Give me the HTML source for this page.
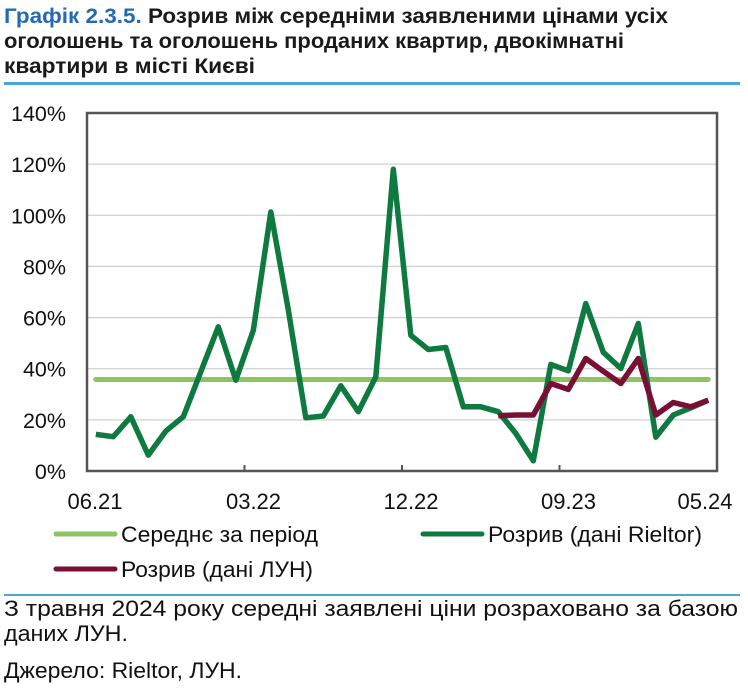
<!DOCTYPE html>
<html><head><meta charset="utf-8"><style>
body{margin:0;background:#fff;}
svg{display:block;font-family:"Liberation Sans",Arial,sans-serif;}
</style></head><body>
<svg width="748" height="695" viewBox="0 0 748 695" xmlns="http://www.w3.org/2000/svg">
<g font-size="21" font-weight="bold" fill="#1a1a1a">
<text x="4" y="23" textLength="664" lengthAdjust="spacingAndGlyphs"><tspan fill="#2369b3">Графік 2.3.5.</tspan> Розрив між середніми заявленими цінами усіх</text>
<text x="4" y="48" textLength="620" lengthAdjust="spacingAndGlyphs">оголошень та оголошень проданих квартир, двокімнатні</text>
<text x="4" y="73" textLength="251" lengthAdjust="spacingAndGlyphs">квартири в місті Києві</text>
</g>
<rect x="4" y="82" width="736" height="3" fill="#4aa6d8"/>
<g id="grid"></g>
<g id="yticks" font-size="21.5" fill="#111" text-anchor="end"></g>
<g id="xticks" font-size="22" fill="#111" text-anchor="middle"></g>
<g id="series"></g>
<rect x="87" y="113" width="630" height="358" fill="none" stroke="#555" stroke-width="2.5"/>
<g id="xtickmarks"></g>
<g font-size="22" fill="#111">
<g><line x1="56" y1="534" x2="115" y2="534" stroke="#8fc463" stroke-width="5" stroke-linecap="round"/><text x="121" y="542" textLength="197" lengthAdjust="spacingAndGlyphs">Середнє за період</text></g>
<g><line x1="423" y1="534" x2="482" y2="534" stroke="#0f7a40" stroke-width="5" stroke-linecap="round"/><text x="488" y="542" textLength="214" lengthAdjust="spacingAndGlyphs">Розрив (дані Rieltor)</text></g>
<g><line x1="56" y1="569" x2="115" y2="569" stroke="#7a0f35" stroke-width="5" stroke-linecap="round"/><text x="121" y="577" textLength="192" lengthAdjust="spacingAndGlyphs">Розрив (дані ЛУН)</text></g>
</g>
<rect x="4" y="594" width="736" height="2" fill="#4aa6d8"/>
<g font-size="22" fill="#111">
<text x="4" y="616" textLength="734" lengthAdjust="spacingAndGlyphs">З травня 2024 року середні заявлені ціни розраховано за базою</text>
<text x="4" y="641" textLength="124" lengthAdjust="spacingAndGlyphs">даних ЛУН.</text>
<text x="4" y="678" textLength="238" lengthAdjust="spacingAndGlyphs">Джерело: Rieltor, ЛУН.</text>
</g>
</svg>
<script>
const rieltor=[14.3,13.4,21.2,6.2,15.6,21.2,38.8,56.4,35.5,55,101.3,63,20.8,21.5,33.3,23.2,36.8,118,53.1,47.5,48.3,25.1,25.1,23.2,14.7,4.0,41.7,39.2,65.5,46.4,40.1,57.7,13.2,21.9,24.7,27.7];
const lun=[null,null,null,null,null,null,null,null,null,null,null,null,null,null,null,null,null,null,null,null,null,null,null,21.6,21.9,21.9,34.2,31.9,44,39,34.2,44,21.9,26.8,25.1,27.7];
const meanValue=[35.8];
const yTicks=[0,20,40,60,80,100,120,140];
const xTickLabels=["06.21","03.22","12.22","09.23","05.24"];
const xTickIndex=[0,9,18,27,35];
const NS="http://www.w3.org/2000/svg";
const X0=87,X1=717,Y0=471,Y1=113,N=rieltor.length;
const xs=i=>X0+(i+0.5)*(X1-X0)/N;
const ys=v=>Y0-(v/140)*(Y0-Y1);
function mk(tag,attrs,parent){const e=document.createElementNS(NS,tag);for(const k in attrs)e.setAttribute(k,attrs[k]);parent.appendChild(e);return e;}
const grid=document.getElementById('grid'),yt=document.getElementById('yticks'),xt=document.getElementById('xticks'),xm=document.getElementById('xtickmarks'),ser=document.getElementById('series');
yTicks.forEach(v=>{
 if(v>0&&v<140){const l=mk('line',{x1:X0,x2:X1,y1:ys(v),y2:ys(v),stroke:'#d0d0d0','stroke-width':1.3},grid);
 
 }
 const t=mk('text',{x:66,y:ys(v)+8},yt);t.textContent=v+'%';
 
 
});
xTickLabels.forEach((lab,k)=>{
 const i=xTickIndex[k];
 let x=X0+i*(X1-X0)/N;
 if(k>0&&k<4){const m=mk('line',{x1:x,x2:x,y1:Y0,y2:Y0-6,stroke:'#555','stroke-width':2},xm);
 
 }
 let cx=k==0?95:(k==4?705:x+9);
 const t=mk('text',{x:cx,y:509},xt);t.textContent=lab;
 
 
});
const mean=mk('line',{x1:xs(0),x2:xs(N-1),y1:ys(meanValue[0]),y2:ys(meanValue[0]),stroke:'#8fc463','stroke-width':5,'stroke-linecap':'round'},ser);


function path(arr){let d='';arr.forEach((v,i)=>{if(v==null)return;d+=(d?'L':'M')+xs(i).toFixed(1)+','+ys(v).toFixed(1);});return d;}
const g=mk('path',{d:path(rieltor),fill:'none',stroke:'#0f7a40','stroke-width':5.5,'stroke-linejoin':'round'},ser);


const r=mk('path',{d:path(lun),fill:'none',stroke:'#7a0f35','stroke-width':5.5,'stroke-linejoin':'round'},ser);


</script>
</body></html>
